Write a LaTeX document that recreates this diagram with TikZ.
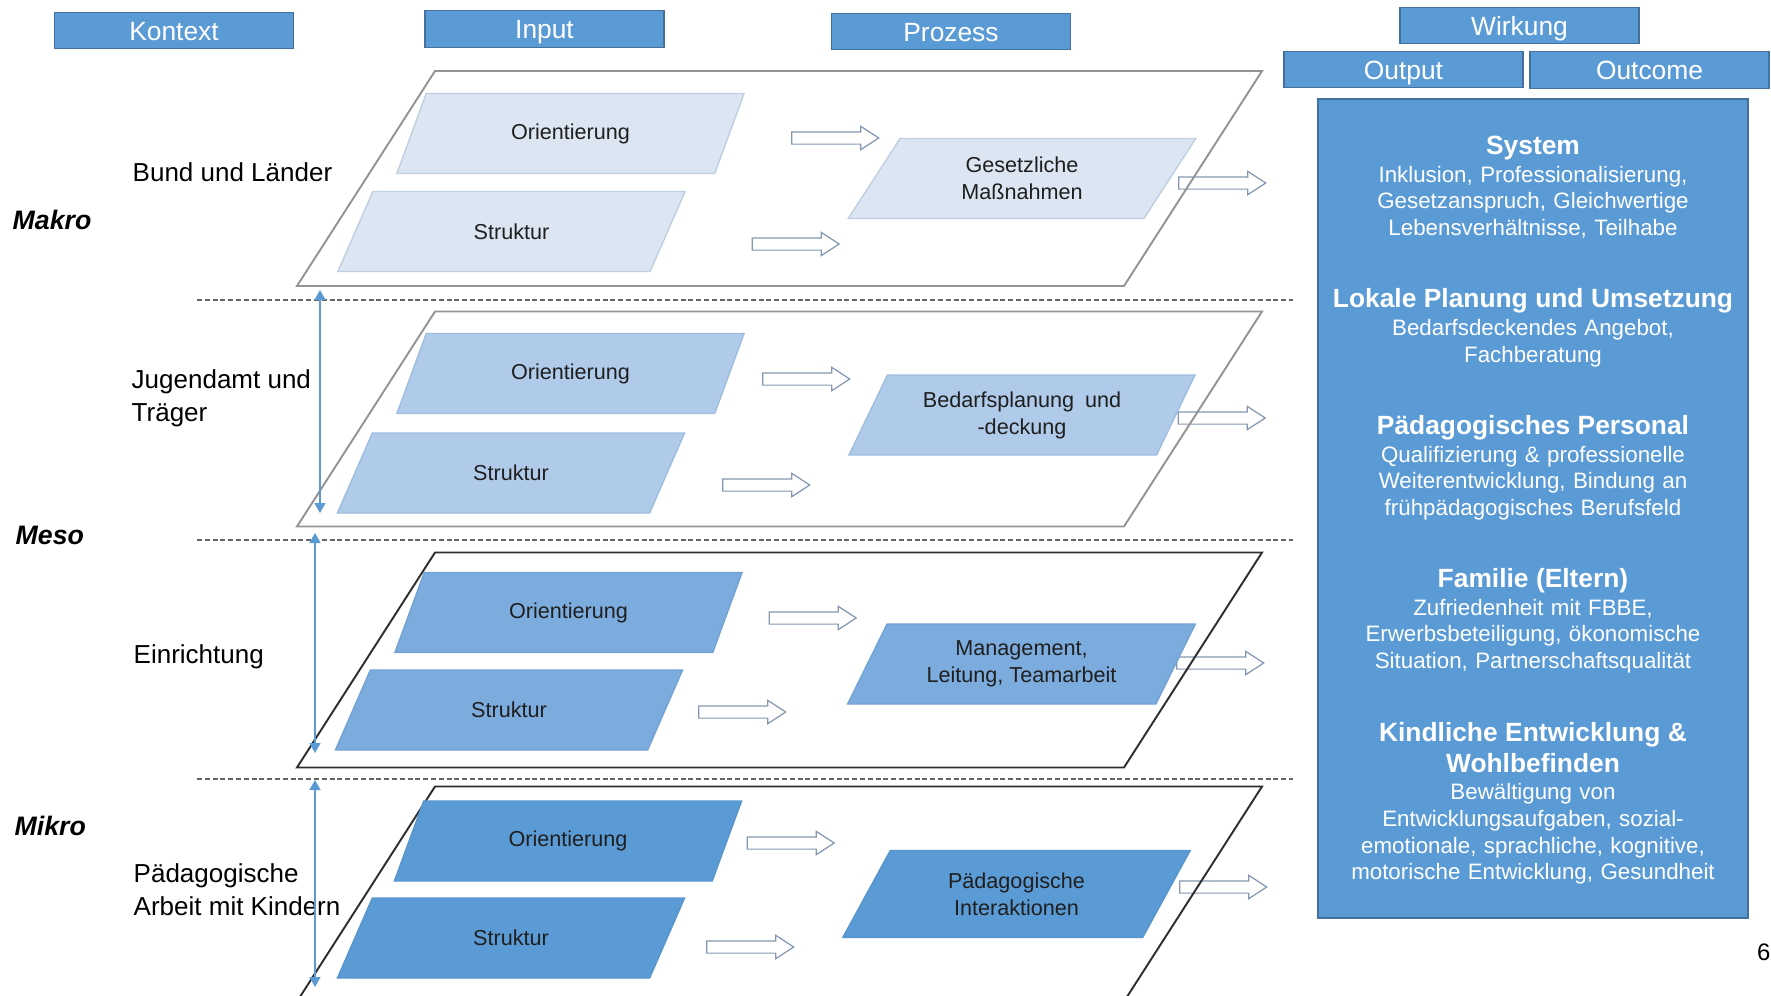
\documentclass[tikz,border=0pt]{standalone}
\usepackage{fontspec}
\setmainfont{Liberation Sans}
\usepackage{tikz}
\usetikzlibrary{shapes,arrows.meta,positioning}
\definecolor{office}{RGB}{91,155,213}
\definecolor{officedark}{RGB}{65,113,156}
\definecolor{ebene1}{RGB}{220,230,242}
\definecolor{ebene2}{RGB}{176,203,234}
\definecolor{ebene3}{RGB}{124,171,222}
\definecolor{ebene4}{RGB}{91,155,213}
\definecolor{pfeilrand}{RGB}{132,151,176}
\tikzset{kopf/.style={draw=officedark, fill=office, text=white, minimum width=2.39cm, minimum height=0.365cm, inner sep=0pt, text height=0.19cm, text depth=0cm, font=\fontsize{7.5}{9}\selectfont}}
\tikzset{ebene/.style={minimum width=9.65cm, minimum height=2.15cm, inner sep=0pt, outer sep=0pt}}
\tikzset{rand/.style={line width=0.55pt, line join=miter}}
\tikzset{feld/.style={trapezium, trapezium left angle=59, trapezium right angle=121, trapezium stretches=true, minimum width=3.48cm, minimum height=0.8cm, inner sep=0pt, line width=0.4pt, align=center, text=black!88, font=\fontsize{6.15}{7.7}\selectfont}}
\tikzset{hohlpfeil/.style={single arrow, draw=pfeilrand, fill=white, line width=0.35pt, text height=0.11cm, text depth=0cm, minimum height=0.87cm, single arrow head extend=0.055cm, single arrow tip angle=66, inner sep=0pt}}
\tikzset{ebenentext/.style={anchor=west, align=left, inner sep=0pt, font=\fontsize{7.4}{9.4}\selectfont}}
\tikzset{stufe/.style={anchor=west, inner sep=0pt, font=\fontsize{7.6}{9}\selectfont\bfseries\itshape}}
\tikzset{wirktext/.style={anchor=north, text width=4.3cm, align=center, text=white, inner sep=0pt, font=\fontsize{6.35}{7.6}\selectfont}}
\newcommand{\titel}[1]{{\fontsize{7.5}{8.8}\selectfont\bfseries #1}}

\begin{document}
\begin{tikzpicture}[x=1cm, y=1cm, on grid]
\useasboundingbox (0,0) rectangle (17.71,-9.95);

% Kopfzeile
\node[kopf] (kontext) at (1.74,-0.305) {Kontext};
\node[kopf] (input) at (5.445,-0.29) {Input};
\node[kopf] (prozess) at (9.51,-0.315) {Prozess};
\node[kopf] (wirkung) at (15.195,-0.255) {Wirkung};
\node[kopf] (output) at (14.035,-0.695) {Output};
\node[kopf] (outcome) at (16.495,-0.70) {Outcome};

% Trennlinien
\draw[black!60, line width=0.4pt, dash pattern=on 0.5mm off 0.28mm] (1.97,-3.00) -- (12.93,-3.00);
\draw[black!60, line width=0.4pt, dash pattern=on 0.5mm off 0.28mm] (1.97,-5.40) -- (12.93,-5.40);
\draw[black!60, line width=0.4pt, dash pattern=on 0.5mm off 0.28mm] (1.97,-7.79) -- (12.93,-7.79);

% Hohlpfeile
\node[hohlpfeil] (a1) at (8.305,-1.38) {};
\node[hohlpfeil] (b1) at (7.91,-2.44) {};
\node[hohlpfeil] (c1) at (12.175,-1.83) {};
\node[hohlpfeil] (a2) at (8.015,-3.79) {};
\node[hohlpfeil] (b2) at (7.615,-4.85) {};
\node[hohlpfeil] (c2) at (12.17,-4.18) {};
\node[hohlpfeil] (a3) at (8.08,-6.18) {};
\node[hohlpfeil] (b3) at (7.375,-7.12) {};
\node[hohlpfeil] (c3) at (12.155,-6.63) {};
\node[hohlpfeil] (a4) at (7.86,-8.43) {};
\node[hohlpfeil] (b4) at (7.455,-9.47) {};
\node[hohlpfeil] (c4) at (12.185,-8.87) {};

% Ebenen
\node[ebene] (L1) at (7.795,-1.785) {};
\node[ebene] (L2) [below=2.405cm of L1] {};
\node[ebene] (L3) [below=2.41cm of L2] {};
\node[ebene] (L4) [below=2.34cm of L3] {};
\draw[rand, black!42] (L1.south west) -- ([xshift=1.38cm]L1.north west) -- (L1.north east) -- ([xshift=-1.38cm]L1.south east) -- cycle;
\draw[rand, black!42] (L2.south west) -- ([xshift=1.38cm]L2.north west) -- (L2.north east) -- ([xshift=-1.38cm]L2.south east) -- cycle;
\draw[rand, black!82] (L3.south west) -- ([xshift=1.38cm]L3.north west) -- (L3.north east) -- ([xshift=-1.38cm]L3.south east) -- cycle;
\draw[rand, black!82] (L4.south west) -- ([xshift=1.38cm]L4.north west) -- (L4.north east) -- ([xshift=-1.38cm]L4.south east) -- cycle;

\node[feld, fill=ebene1, draw=ebene1!80!officedark] (O1) [above left=0.45cm and 2.09cm of L1] {Orientierung};
\node[feld, fill=ebene1, draw=ebene1!80!officedark] (S1) [below left=0.53cm and 2.68cm of L1] {Struktur};
\node[feld, fill=ebene1, draw=ebene1!80!officedark] (P1) [right=2.425cm of L1] {Gesetzliche\\Maßnahmen};

\node[feld, fill=ebene2, draw=ebene2!85!officedark] (O2) [above left=0.455cm and 2.09cm of L2] {Orientierung};
\node[feld, fill=ebene2, draw=ebene2!85!officedark] (S2) [below left=0.54cm and 2.685cm of L2] {Struktur};
\node[feld, fill=ebene2, draw=ebene2!85!officedark] (P2) [above right=0.04cm and 2.425cm of L2] {Bedarfsplanung\enspace und\\-deckung};

\node[feld, fill=ebene3, draw=ebene3!85!officedark] (O3) [above left=0.475cm and 2.11cm of L3] {Orientierung};
\node[feld, fill=ebene3, draw=ebene3!85!officedark] (S3) [below left=0.5cm and 2.705cm of L3] {Struktur};
\node[feld, fill=ebene3, draw=ebene3!85!officedark] (P3) [below right=0.04cm and 2.42cm of L3] {Management,\\Leitung, Teamarbeit};

\node[feld, fill=ebene4, draw=ebene4!85!officedark] (O4) [above left=0.53cm and 2.115cm of L4] {Orientierung};
\node[feld, fill=ebene4, draw=ebene4!85!officedark] (S4) [below left=0.44cm and 2.685cm of L4] {Struktur};
\node[feld, fill=ebene4, draw=ebene4!85!officedark, minimum height=0.87cm] (P4) [right=2.37cm of L4] {Pädagogische\\Interaktionen};

% Beschriftung links
\node[stufe] (makro) at (0.12,-2.20) {Makro};
\node[stufe] (meso) at (0.15,-5.35) {Meso};
\node[stufe] (mikro) at (0.14,-8.26) {Mikro};
\node[ebenentext] (bund) at (1.32,-1.72) {Bund und Länder};
\node[ebenentext] (jugendamt) at (1.31,-3.985) {Jugendamt und\\Träger};
\node[ebenentext] (einrichtung) at (1.33,-6.57) {Einrichtung};
\node[ebenentext] (kinder) at (1.33,-8.895) {Pädagogische\\Arbeit mit Kindern};

% Doppelpfeile
\coordinate (v1o) at (3.20,-2.90);
\coordinate (v1u) at (3.20,-5.13);
\coordinate (v2o) at (3.15,-5.33);
\coordinate (v2u) at (3.15,-7.53);
\coordinate (v3o) at (3.15,-7.80);
\coordinate (v3u) at (3.15,-9.87);
\draw[office, line width=0.4pt, {Triangle[width=1.1mm,length=1mm]}-{Triangle[width=1.1mm,length=1mm]}] (v1o) -- (v1u);
\draw[office, line width=0.4pt, {Triangle[width=1.1mm,length=1mm]}-{Triangle[width=1.1mm,length=1mm]}] (v2o) -- (v2u);
\draw[office, line width=0.4pt, {Triangle[width=1.1mm,length=1mm]}-{Triangle[width=1.1mm,length=1mm]}] (v3o) -- (v3u);

% Wirkung
\node[draw=officedark, fill=office, minimum width=4.30cm, minimum height=8.19cm] (wirkbox) at (15.33,-5.085) {};
\node[wirktext] (system) at (15.33,-1.35) {\titel{System}\\[0.4pt]Inklusion, Professionalisierung,\\Gesetzanspruch, Gleichwertige\\Lebensverhältnisse, Teilhabe};
\node[wirktext] (lokal) at (15.33,-2.88) {\titel{Lokale Planung und Umsetzung}\\[0.3pt]Bedarfsdeckendes Angebot,\\Fachberatung};
\node[wirktext] (personal) at (15.33,-4.15) {\titel{Pädagogisches Personal}\\[0.2pt]Qualifizierung \& professionelle\\Weiterentwicklung, Bindung an\\frühpädagogisches Berufsfeld};
\node[wirktext] (familie) at (15.33,-5.68) {\titel{Familie (Eltern)}\\[0.2pt]Zufriedenheit mit FBBE,\\Erwerbsbeteiligung, ökonomische\\Situation, Partnerschaftsqualität};
\node[wirktext] (kind) at (15.33,-7.22) {\titel{Kindliche Entwicklung \&}\\[1.2pt]\titel{Wohlbefinden}\\[0.1pt]Bewältigung von\\Entwicklungsaufgaben, sozial-\\emotionale, sprachliche, kognitive,\\motorische Entwicklung, Gesundheit};

\node[anchor=west, inner sep=0pt, font=\fontsize{6.8}{8}\selectfont] (seite) at (17.565,-9.52) {6};
\end{tikzpicture}
\end{document}
